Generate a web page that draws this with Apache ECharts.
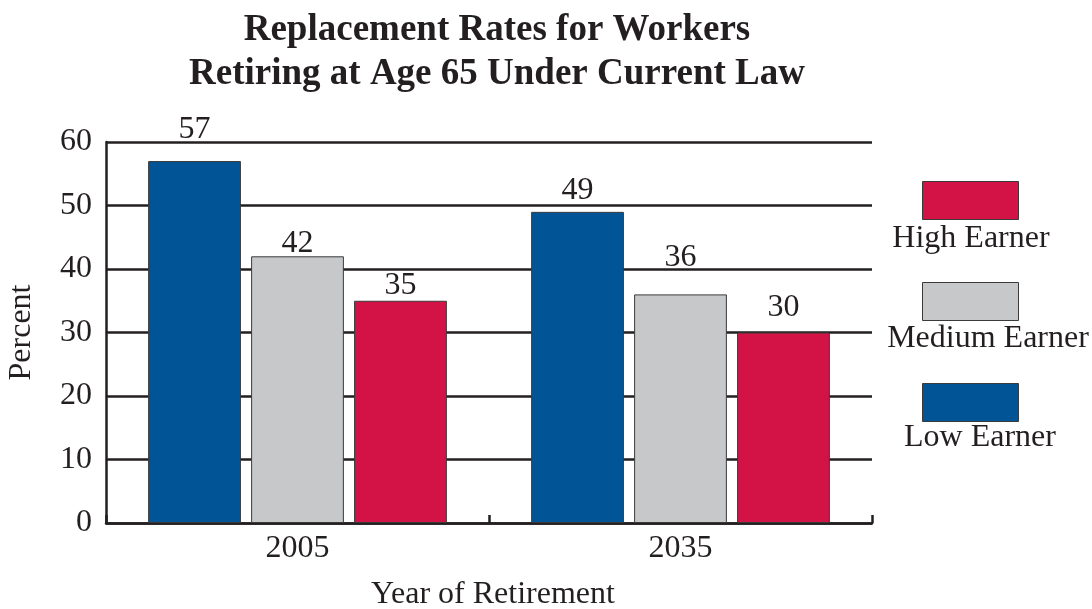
<!DOCTYPE html>
<html>
<head>
<meta charset="utf-8">
<script src="https://cdn.jsdelivr.net/npm/echarts@6/dist/echarts.min.js"></script>
<style>
  html, body { margin: 0; padding: 0; background: #ffffff; }
  #chart { width: 1092px; height: 609px; }
</style>
</head>
<body>
<div id="chart"></div>
<script>
// Replacement rates (percent of pre-retirement earnings) by year of retirement
const years = ['2005', '2035'];
const lowEarner = [57, 49];
const mediumEarner = [42, 36];
const highEarner = [35, 30];
const yTicks = [0, 10, 20, 30, 40, 50, 60];

// How far each value label floats above its bar (px), per year
const lowLift = [15, 5];
const mediumLift = [-3, 21];
const highLift = [-1, 9];

const SERIF = '"Liberation Serif", "Times New Roman", serif';
const INK = '#231f20';
const colors = { low: '#015596', medium: '#c7c8ca', high: '#d31245' };

const chart = echarts.init(document.getElementById('chart'), null, { renderer: 'canvas' });

function barSeries(name, values, lifts, color) {
  return {
    name: name,
    type: 'bar',
    data: values.map(function (v, i) {
      return { value: v, label: { distance: lifts[i] } };
    }),
    barGap: '11%',
    barCategoryGap: '22%',
    itemStyle: { color: color, borderColor: '#3a3a3a', borderWidth: 1 },
    label: {
      show: true,
      position: 'top',
      color: INK,
      fontFamily: SERIF,
      fontSize: 32
    },
    emphasis: { disabled: true }
  };
}

// Legend keys sit above their labels, so labels are drawn as separate text
const legendLabels = [
  { text: 'High Earner', x: 971, y: 239 },
  { text: 'Medium Earner', x: 988, y: 339 },
  { text: 'Low Earner', x: 980, y: 438 }
];

chart.setOption({
  animation: false,
  backgroundColor: '#ffffff',
  title: {
    text: 'Replacement Rates for Workers\nRetiring at Age 65 Under Current Law',
    left: 492,
    top: 3,
    textAlign: 'center',
    textStyle: {
      fontFamily: SERIF,
      fontWeight: 'bold',
      fontSize: 37,
      lineHeight: 44,
      color: INK
    }
  },
  legend: {
    data: ['High Earner', 'Medium Earner', 'Low Earner'],
    orient: 'vertical',
    left: 917,
    top: 176,
    itemWidth: 96,
    itemHeight: 38,
    itemGap: 62,
    formatter: function () { return ''; },
    selectedMode: false,
    icon: 'rect',
    itemStyle: { borderColor: '#3a3a3a', borderWidth: 1 },
    textStyle: { fontSize: 1 }
  },
  graphic: legendLabels.map(function (l) {
    return {
      type: 'text',
      x: l.x,
      y: l.y,
      style: {
        text: l.text,
        fill: INK,
        font: '32px ' + SERIF,
        textAlign: 'center',
        textVerticalAlign: 'middle'
      }
    };
  }),
  grid: {
    left: 106, right: 220, top: 142, bottom: 86,
    containLabel: false,
    outerBoundsMode: 'none'
  },
  xAxis: {
    type: 'category',
    data: years,
    name: 'Year of Retirement',
    nameLocation: 'middle',
    nameGap: 56,
    nameTextStyle: { fontFamily: SERIF, fontSize: 32, color: INK, padding: [0, 0, 0, 8] },
    axisLine: { show: true, lineStyle: { color: INK, width: 2.5 } },
    axisTick: { show: true, inside: true, length: 8, lineStyle: { color: INK, width: 2.5 } },
    axisLabel: { fontFamily: SERIF, fontSize: 32, color: INK, margin: 10 },
    splitLine: { show: false }
  },
  yAxis: {
    type: 'value',
    min: yTicks[0],
    max: yTicks[yTicks.length - 1],
    interval: 10,
    name: 'Percent',
    nameLocation: 'middle',
    nameGap: 68,
    nameRotate: 90,
    nameTextStyle: { fontFamily: SERIF, fontSize: 32, color: INK },
    axisLine: { show: true, lineStyle: { color: INK, width: 2.5 } },
    axisTick: { show: false },
    axisLabel: { fontFamily: SERIF, fontSize: 32, color: INK, margin: 14 },
    splitLine: { show: true, lineStyle: { color: INK, width: 2.5 } }
  },
  series: [
    barSeries('Low Earner', lowEarner, lowLift, colors.low),
    barSeries('Medium Earner', mediumEarner, mediumLift, colors.medium),
    barSeries('High Earner', highEarner, highLift, colors.high)
  ]
});
</script>
</body>
</html>
